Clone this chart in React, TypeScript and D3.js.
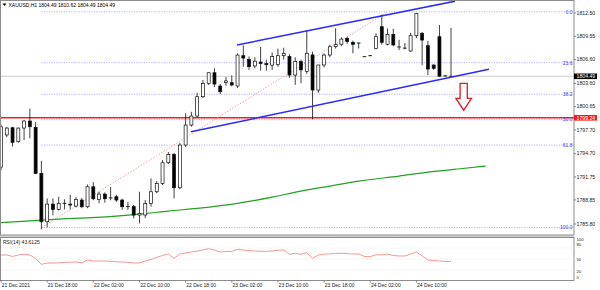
import React from 'react';
import * as d3 from 'd3';

// ---- data ----
const opens = [1793.0, 1797.06, 1797.98, 1796.21, 1797.94, 1798.83, 1798.03, 1792.21, 1786.08, 1788.32,
  1787.65, 1788.41, 1788.32, 1788.07, 1788.83, 1787.98, 1790.51, 1788.92, 1789.59, 1789.0,
  1789.25, 1788.83, 1787.98, 1788.0, 1786.93, 1786.93, 1788.41, 1789.88, 1790.94, 1793.55,
  1794.61, 1790.39, 1795.79, 1798.32, 1799.46, 1801.91, 1803.6, 1804.94, 1803.26, 1803.7,
  1803.68, 1803.26, 1807.1, 1806.6, 1805.8, 1806.3, 1806.1, 1805.9, 1806.0, 1807.1,
  1807.0, 1804.65, 1806.35, 1805.1, 1807.2, 1802.75, 1805.92, 1807.18, 1808.23, 1808.54,
  1809.3, 1808.8, 1808.7, 1806.97, 1807.1, 1808.03, 1810.77, 1808.54, 1809.8, 1808.2,
  1808.05, 1807.69, 1809.63, 1809.93, 1808.36, 1805.92, 1809.5, 1804.55, 1804.49];
const highs = [1798.4, 1798.1, 1798.1, 1798.0, 1798.95, 1800.4, 1798.7, 1793.8, 1789.04, 1789.04,
  1789.25, 1788.92, 1789.5, 1789.2, 1789.1, 1790.8, 1791.1, 1789.9, 1789.8, 1790.5,
  1789.5, 1789.0, 1788.6, 1788.2, 1789.88, 1788.83, 1791.58, 1791.23, 1793.9, 1794.91,
  1794.8, 1796.04, 1799.8, 1800.0, 1802.4, 1804.02, 1804.94, 1805.5, 1803.51, 1804.4,
  1804.6, 1807.4, 1808.4, 1807.0, 1806.9, 1808.2, 1806.6, 1807.5, 1808.0, 1808.1,
  1807.3, 1806.9, 1806.6, 1810.3, 1807.6, 1805.6, 1807.4, 1808.5, 1810.56, 1809.4,
  1809.5, 1809.0, 1808.75, 1807.0, 1807.15, 1809.93, 1812.3, 1810.56, 1810.5, 1809.1,
  1808.7, 1810.0, 1812.5, 1810.1, 1808.96, 1806.0, 1810.98, 1804.6, 1810.62];
const lows = [1792.6, 1796.8, 1795.6, 1796.1, 1796.42, 1796.64, 1792.1, 1785.12, 1785.37, 1786.9,
  1787.5, 1787.65, 1787.65, 1787.9, 1787.8, 1787.8, 1788.8, 1788.4, 1788.5, 1788.8,
  1788.6, 1787.6, 1787.6, 1786.5, 1785.88, 1786.55, 1788.0, 1789.7, 1790.73, 1793.4,
  1789.04, 1790.2, 1795.54, 1798.11, 1799.3, 1801.74, 1803.39, 1803.13, 1802.25, 1803.3,
  1803.2, 1803.0, 1805.7, 1805.3, 1805.5, 1805.2, 1805.2, 1805.3, 1805.7, 1806.6,
  1804.3, 1803.4, 1803.6, 1804.8, 1799.04, 1802.4, 1805.6, 1806.9, 1808.0, 1808.3,
  1808.6, 1807.4, 1808.0, 1806.93, 1807.05, 1807.9, 1808.5, 1808.4, 1808.3, 1807.8,
  1807.9, 1807.6, 1809.3, 1805.9, 1804.65, 1805.3, 1804.45, 1804.45, 1804.49];
const closes = [1798.1, 1797.94, 1796.13, 1797.94, 1798.83, 1798.11, 1792.21, 1786.08, 1788.32, 1787.65,
  1788.41, 1788.32, 1788.2, 1788.92, 1787.98, 1790.51, 1788.99, 1789.59, 1788.99, 1789.1,
  1788.83, 1787.98, 1788.0, 1786.93, 1787.15, 1788.41, 1789.88, 1790.94, 1793.55, 1794.61,
  1790.39, 1795.79, 1798.32, 1799.46, 1801.91, 1803.6, 1804.94, 1803.51, 1802.54, 1803.9,
  1803.39, 1807.18, 1806.8, 1805.7, 1806.4, 1806.1, 1805.95, 1807.0, 1807.1, 1807.4,
  1804.65, 1806.35, 1805.3, 1807.4, 1802.75, 1805.92, 1807.18, 1808.23, 1808.54, 1809.2,
  1808.9, 1808.54, 1808.65, 1806.95, 1807.1, 1809.5, 1808.79, 1809.8, 1808.45, 1808.1,
  1808.0, 1809.63, 1812.46, 1809.08, 1805.41, 1805.5, 1804.5, 1804.5, 1804.49];

const rsiValues = [61, 61, 57, 61, 63, 61, 51.5, 35.5, 39, 39,
  39.6, 40.4, 41, 41.8, 40, 47.3, 44.5, 44.5, 44.5, 43.7,
  42.6, 41.8, 41, 39.1, 39.1, 44.5, 48.6, 54.6, 59.6, 63.7,
  51.9, 63.7, 66.4, 69.1, 71.9, 74.6, 78.1, 74.6, 69.1, 70.5,
  71, 76.5, 74.6, 72.7, 71.9, 71, 71, 71.9, 73.8, 74.6,
  62.8, 65.6, 62.8, 67.2, 51.9, 60.9, 63.1, 64.2, 65, 65.6,
  64.8, 63.7, 63.7, 56.8, 56.3, 61.7, 61, 63.7, 59.6, 58.2,
  58.2, 63.7, 69.1, 58.2, 47.3, 45.9, 44.5, 43.2, 43.6125];

const maBars = [0, 10, 20, 25, 29, 34, 41, 47, 52, 57, 62, 69, 74, 80, 84];
const maValues = [1785.98, 1786.42, 1786.8, 1787.12, 1787.44, 1787.78, 1788.41, 1789.21, 1789.97, 1790.6,
  1791.23, 1791.87, 1792.37, 1792.82, 1793.13];

const priceTicks = ['1812.50', '1809.55', '1806.60', '1803.60', '1800.65', '1797.70', '1794.70', '1791.75', '1788.85', '1785.80'];
const timeLabels = ['21 Dec 2021', '21 Dec 18:00', '22 Dec 02:00', '22 Dec 10:00', '22 Dec 18:00',
  '23 Dec 02:00', '23 Dec 10:00', '23 Dec 18:00', '24 Dec 02:00', '24 Dec 10:00'];
const timeLabelBars = [0, 8, 16, 24, 32, 40, 48, 56, 64, 72];

const fibLevels = [0, 23.6, 38.2, 50, 61.8, 100];
const fibHigh = 1812.65;
const fibLow = 1785.35;
const fibBars = [7, 67];

const upperChannelBars = [40.9, 78.7];
const upperChannelPrices = [1808.45, 1814.0];
const lowerChannelBars = [32.93, 84.57];
const lowerChannelPrices = [1797.47, 1805.37];

const supportLevel = 1799.24;
const lastPrice = 1804.49;
const headerText = 'XAUUSD,H1  1804.49 1810.62 1804.49 1804.49';
const rsiLabel = 'RSI(14) 43.6125';
const rsiGridLevels = [20, 50, 80];
const rsiAxisLabels = ['100', '80', '50', '20', '0'];
const rsiAxisLabelY = [102.5, 89.5, 50, 15.5, 0];

const arrowBar = 80.2;
const arrowPrices = [1803.6, 1801.7, 1800.2];

// ---- layout ----
const W = 600, H = 290;
const plotRight = 574;
const mainBottom = 235;
const rsiTop = 237, rsiBottom = 280;
const FONT = 'Liberation Sans, Arial, sans-serif';

export default function App() {
  const x = d3.scaleLinear().domain([0, 78]).range([1, 451]);
  const y = d3.scaleLinear().domain([1785.8, 1812.5]).range([224, 13]);
  const yR = d3.scaleLinear().domain([0, 100]).range([277.3, 240.7]);

  const maLine = d3.line<number>().x((_, i) => x(maBars[i])).y((d) => y(d)).curve(d3.curveMonotoneX)(maValues) || '';
  const rsiLine = d3.line<number>().x((_, i) => x(i)).y((d) => yR(d))(rsiValues) || '';

  const ax = x(arrowBar);
  const [aTop, aBase, aTip] = arrowPrices.map((p) => y(p));
  const arrowPts = [
    [ax - 3.6, aTop], [ax + 3.6, aTop], [ax + 3.6, aBase], [ax + 7.8, aBase], [ax, aTip],
    [ax - 7.8, aBase], [ax - 3.6, aBase],
  ].map((p) => p.join(',')).join(' ');

  return (
    <svg width={W} height={H} style={{ position: 'absolute', left: 0, top: 0, background: '#fff' }}
      fontFamily={FONT}>
      <defs>
        <clipPath id="mainClip"><rect x={1} y={1} width={plotRight - 1} height={mainBottom - 1} /></clipPath>
        <clipPath id="rsiClip"><rect x={1} y={rsiTop} width={plotRight - 1} height={rsiBottom - rsiTop} /></clipPath>
      </defs>
      <rect x={0} y={0} width={W} height={H} fill="#fff" />

      <g clipPath="url(#mainClip)">
        {fibLevels.map((lv) => {
          const yy = y(fibHigh - (fibHigh - fibLow) * lv / 100);
          return (
            <line key={'fib' + lv} x1={x(fibBars[0])} x2={plotRight} y1={yy} y2={yy}
              stroke="#8a8aff" strokeWidth={0.8} strokeDasharray="1,1.5" />
          );
        })}
        <line x1={0} x2={plotRight} y1={y(lastPrice)} y2={y(lastPrice)} stroke="#c4c4c4" strokeWidth={0.8} />
        <line x1={0} x2={plotRight} y1={y(supportLevel)} y2={y(supportLevel)} stroke="#ff1a1a" strokeWidth={1.4} />
        <line x1={x(fibBars[0])} y1={y(fibLow)} x2={x(fibBars[1])} y2={y(fibHigh)}
          stroke="#f08c8c" strokeWidth={0.8} strokeDasharray="1.5,1.5" />
        <path d={maLine} fill="none" stroke="#22a022" strokeWidth={1.2} />
        {opens.map((o, i) => {
          const c = closes[i];
          const cx = x(i);
          const up = c >= o;
          const top = y(Math.max(o, c));
          const bot = y(Math.min(o, c));
          return (
            <g key={'c' + i}>
              <line x1={cx} x2={cx} y1={y(highs[i])} y2={y(lows[i])} stroke="#111" strokeWidth={0.8} />
              {bot - top < 0.8 ? (
                <line x1={cx - 1.8} x2={cx + 1.8} y1={top} y2={top} stroke="#111" strokeWidth={0.9} />
              ) : (
                <rect x={cx - 1.5} y={top} width={3} height={bot - top}
                  fill={up ? '#fff' : '#000'} stroke="#111" strokeWidth={0.7} />
              )}
            </g>
          );
        })}
        <line x1={x(upperChannelBars[0])} y1={y(upperChannelPrices[0])} x2={x(upperChannelBars[1])} y2={y(upperChannelPrices[1])}
          stroke="#2a2aff" strokeWidth={1.5} />
        <line x1={x(lowerChannelBars[0])} y1={y(lowerChannelPrices[0])} x2={x(lowerChannelBars[1])} y2={y(lowerChannelPrices[1])}
          stroke="#2a2aff" strokeWidth={1.5} />
        <polygon points={arrowPts} fill="#fff" stroke="#e01e1e" strokeWidth={1.3} strokeLinejoin="miter" />
        {fibLevels.map((lv) => {
          const yy = y(fibHigh - (fibHigh - fibLow) * lv / 100);
          return (
            <text key={'fl' + lv} x={572.5} y={yy + 1.8} fontSize={5} fill="#3c3cff" textAnchor="end">{lv.toFixed(1)}</text>
          );
        })}
      </g>

      <polygon points="2.5,3.5 6.5,3.5 4.5,6" fill="#000" />
      <text x={8.5} y={6.8} fontSize={5} fill="#000">{headerText}</text>

      <rect x={0.5} y={0.5} width={plotRight - 0.5} height={mainBottom - 0.5} fill="none" stroke="#8c8c8c" strokeWidth={1} />
      <line x1={0} x2={plotRight} y1={mainBottom + 1} y2={mainBottom + 1} stroke="#a0a0a0" strokeWidth={1} />
      <rect x={0.5} y={rsiTop + 0.5} width={plotRight - 0.5} height={rsiBottom - rsiTop} fill="none" stroke="#8c8c8c" strokeWidth={1} />

      {priceTicks.map((t) => (
        <g key={'pt' + t}>
          <line x1={plotRight} x2={plotRight + 2} y1={y(+t)} y2={y(+t)} stroke="#555" strokeWidth={0.7} />
          <text x={576.5} y={y(+t) + 1.8} fontSize={5.2} fill="#222">{t}</text>
        </g>
      ))}
      <rect x={plotRight} y={y(lastPrice) - 2.8} width={23} height={5.6} fill="#000" />
      <text x={576.5} y={y(lastPrice) + 1.8} fontSize={5.2} fill="#fff">{lastPrice.toFixed(2)}</text>
      <rect x={plotRight} y={y(supportLevel) - 2.8} width={23} height={5.6} fill="#ff1a1a" />
      <text x={576.5} y={y(supportLevel) + 1.8} fontSize={5.2} fill="#fff">{supportLevel.toFixed(2)}</text>

      <g clipPath="url(#rsiClip)">
        {rsiGridLevels.map((lv) => (
          <line key={'rg' + lv} x1={1} x2={plotRight} y1={yR(lv)} y2={yR(lv)} stroke="#e4e4e4" strokeWidth={0.7} strokeDasharray="1,1" />
        ))}
        <path d={rsiLine} fill="none" stroke="#f58a8a" strokeWidth={0.9} />
      </g>
      <text x={3} y={243.5} fontSize={5} fill="#222">{rsiLabel}</text>
      {rsiAxisLabels.map((t, i) => (
        <text key={'rl' + t} x={576.5} y={yR(rsiAxisLabelY[i]) + 1.5} fontSize={4.2} fill="#222">{t}</text>
      ))}

      {timeLabels.map((t, i) => (
        <g key={'tl' + t}>
          <line x1={x(timeLabelBars[i])} x2={x(timeLabelBars[i])} y1={rsiBottom + 0.5} y2={rsiBottom + 2.5} stroke="#555" strokeWidth={0.7} />
          <text x={x(timeLabelBars[i]) + 0.7} y={286.5} fontSize={5} fill="#222">{t}</text>
        </g>
      ))}
    </svg>
  );
}
